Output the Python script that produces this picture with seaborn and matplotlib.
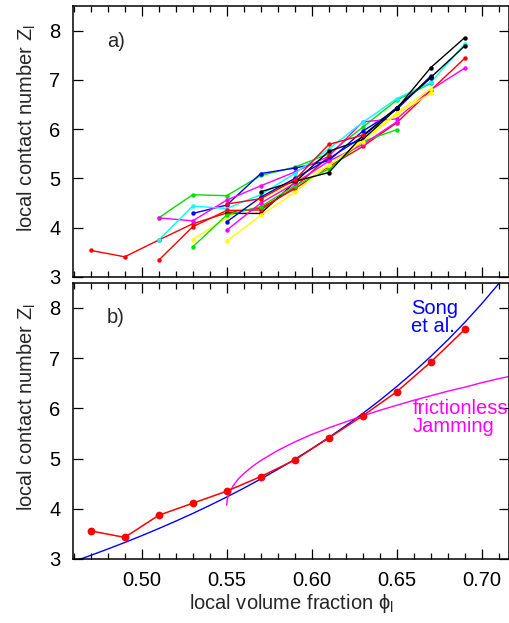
import numpy as np
import pandas as pd
import matplotlib
matplotlib.use("Agg")
import matplotlib.pyplot as plt
import seaborn as sns
from matplotlib.ticker import MultipleLocator

nan = np.nan

# ---------------- data ----------------
phi_grid = [0.47, 0.49, 0.51, 0.53, 0.55, 0.57, 0.59, 0.61, 0.63, 0.65, 0.67, 0.69]

# panel a: individual local curves (nan = no point)
r1 = [3.54, 3.41, 3.75, 4.08, 4.30, 4.40, 4.79, 5.24, 5.65, 6.13, 6.79, 7.44]
g1 = [nan, nan, 4.20, 4.67, 4.65, 5.06, 5.23, 5.50, 6.04, 6.59, 6.93, nan]
b1 = [nan, nan, nan, 4.29, 4.46, 5.10, 5.21, 5.36, 5.96, 6.40, 7.08, nan]
m1 = [nan, nan, 4.20, 4.14, 4.56, 4.85, 5.13, 5.45, 6.15, 6.21, 6.80, 7.24]
c1 = [nan, nan, 3.75, 4.44, 4.39, 4.67, 5.10, 5.60, 6.14, 6.62, 6.95, 7.73]
y1 = [nan, nan, nan, 3.76, 4.20, 4.57, 4.95, 5.25, 5.80, 6.33, 6.82, nan]
k1 = [nan, nan, nan, nan, 4.29, 4.29, 4.92, 5.55, 5.79, 6.42, 7.25, 7.86]
r2 = [nan, nan, 3.34, 4.02, 4.35, 4.36, 4.82, 5.45, nan, nan, nan, nan]
g2 = [nan, nan, nan, 3.61, 4.26, 4.43, 4.85, 5.19, 5.75, 5.99, nan, nan]
b2 = [nan, nan, nan, nan, 4.12, 4.62, 5.00, 5.40, 5.85, 6.43, 7.04, nan]
m2 = [nan, nan, nan, nan, 3.95, 4.50, 4.90, 5.35, 5.69, 6.15, nan, nan]
y2 = [nan, nan, nan, nan, 3.73, 4.25, 4.72, 5.28, 5.75, 6.30, 6.73, nan]
k2 = [nan, nan, nan, nan, nan, 4.73, 4.94, 5.12, 5.87, 6.44, 7.05, 7.69]
r3 = [nan, nan, nan, nan, 4.48, 4.59, 4.97, 5.69, 5.88, nan, nan, nan]

series_names = ["r1", "g1", "b1", "m1", "c1", "y1", "k1",
                "r2", "g2", "b2", "m2", "y2", "k2", "r3"]
series_values = [r1, g1, b1, m1, c1, y1, k1, r2, g2, b2, m2, y2, k2, r3]
series_colors = ["#ff0000", "#00e000", "#0000ff", "#ff00ff", "#00ffff", "#ffff00", "#000000",
                 "#ff0000", "#00e000", "#0000ff", "#ff00ff", "#ffff00", "#000000", "#ff0000"]

# panel b: averaged curve
z_mean = [3.56, 3.43, 3.87, 4.11, 4.35, 4.64, 4.97, 5.41, 5.85, 6.33, 6.92, 7.57]

# Song et al. curve
song_phi = [0.46, 0.47, 0.48, 0.49, 0.50, 0.51, 0.52, 0.53, 0.54, 0.55, 0.56, 0.57, 0.58,
            0.59, 0.60, 0.61, 0.62, 0.63, 0.64, 0.65, 0.66, 0.67, 0.68, 0.69, 0.70, 0.71, 0.72]
song_z = [2.951, 3.072, 3.198, 3.328, 3.464, 3.606, 3.753, 3.906, 4.067, 4.234, 4.409, 4.592,
          4.784, 4.985, 5.196, 5.418, 5.652, 5.898, 6.158, 6.433, 6.724, 7.033, 7.361, 7.710,
          8.083, 8.481, 8.908]

# frictionless jamming curve
jam_phi = [0.5500, 0.5503, 0.551, 0.552, 0.554, 0.557, 0.560, 0.565, 0.570, 0.580, 0.590,
           0.600, 0.610, 0.620, 0.630, 0.640, 0.650, 0.660, 0.670, 0.680, 0.690, 0.700,
           0.710, 0.720]
jam_z = [4.07, 4.18, 4.27, 4.35, 4.47, 4.60, 4.70, 4.84, 4.96, 5.16, 5.33, 5.48, 5.61,
         5.73, 5.85, 5.96, 6.06, 6.16, 6.25, 6.34, 6.42, 6.51, 6.59, 6.66]

x_ticks = [0.50, 0.55, 0.60, 0.65, 0.70]
y_ticks = [3, 4, 5, 6, 7, 8]

# ---------------- style ----------------
sns.set_theme(style="ticks")
plt.rcParams["font.family"] = ["Liberation Sans", "DejaVu Sans"]
plt.rcParams["mathtext.fontset"] = "custom"
plt.rcParams["mathtext.rm"] = "Liberation Sans"
FS = 14.5

fig = plt.figure(figsize=(5.10, 6.23), dpi=100)
ax1 = fig.add_axes([73/510, 1-277/623, 436/510, 271/623])
ax2 = fig.add_axes([73/510, 1-559/623, 436/510, 276.3/623])

# panel a
rows = []
for name, vals in zip(series_names, series_values):
    for p, z in zip(phi_grid, vals):
        if not np.isnan(z):
            rows.append({"series": name, "phi": p, "Z": z})
df_a = pd.DataFrame(rows)
palette = dict(zip(series_names, series_colors))
sns.lineplot(data=df_a, x="phi", y="Z", hue="series", palette=palette,
             hue_order=series_names, units="series", estimator=None, sort=False,
             marker="o", markersize=3.2, markeredgewidth=0, linewidth=1.0,
             legend=False, ax=ax1)

# panel b
sns.lineplot(x=song_phi, y=song_z, color="#0000ff", linewidth=1.0, sort=False,
             estimator=None, ax=ax2)
sns.lineplot(x=jam_phi, y=jam_z, color="#ff00ff", linewidth=1.0, sort=False,
             estimator=None, ax=ax2)
sns.lineplot(x=phi_grid, y=z_mean, color="#ff0000", linewidth=1.1, sort=False,
             estimator=None, marker="o", markersize=5.6, markeredgewidth=0, ax=ax2)

for ax in (ax1, ax2):
    ax.set_xlim(0.4596, 0.716)
    ax.set_ylim(3, 8.5)
    ax.set_xticks(x_ticks)
    ax.set_yticks(y_ticks)
    ax.xaxis.set_minor_locator(MultipleLocator(0.01))
    ax.tick_params(which="both", direction="in", top=True, right=True,
                   colors="black", width=0.9, labelsize=FS)
    ax.tick_params(which="major", length=7, pad=8)
    ax.tick_params(which="minor", length=4)
    ax.tick_params(axis="y", pad=9)
    for s in ax.spines.values():
        s.set_linewidth(1.1)
        s.set_color("black")
    ax.set_ylabel(r"local contact number $\mathregular{Z_l}$", fontsize=FS)
    ax.yaxis.set_label_coords(-0.08, 0.55)
    ax.set_facecolor("white")

ax1.set_xticklabels([])
ax1.set_xlabel("")
ax2.set_xticklabels(["%.2f" % t for t in x_ticks])
ax2.tick_params(axis="x", pad=9)
ax2.set_xlabel(r"local volume fraction $\mathregular{\phi_l}$", fontsize=FS, labelpad=1)

ax1.text(0.078, 0.905, "a)", transform=ax1.transAxes, fontsize=FS, va="top", ha="left")
ax2.text(0.078, 0.91, "b)", transform=ax2.transAxes, fontsize=FS, va="top", ha="left")
ax2.text(0.775, 0.94, "Song\net al.", transform=ax2.transAxes, fontsize=FS,
         va="top", ha="left", color="#0000ff", linespacing=0.9)
ax2.text(0.78, 0.578, "frictionless\nJamming", transform=ax2.transAxes, fontsize=FS,
         va="top", ha="left", color="#ff00ff", linespacing=0.9)

fig.savefig("out.png", dpi=100, facecolor="white")
